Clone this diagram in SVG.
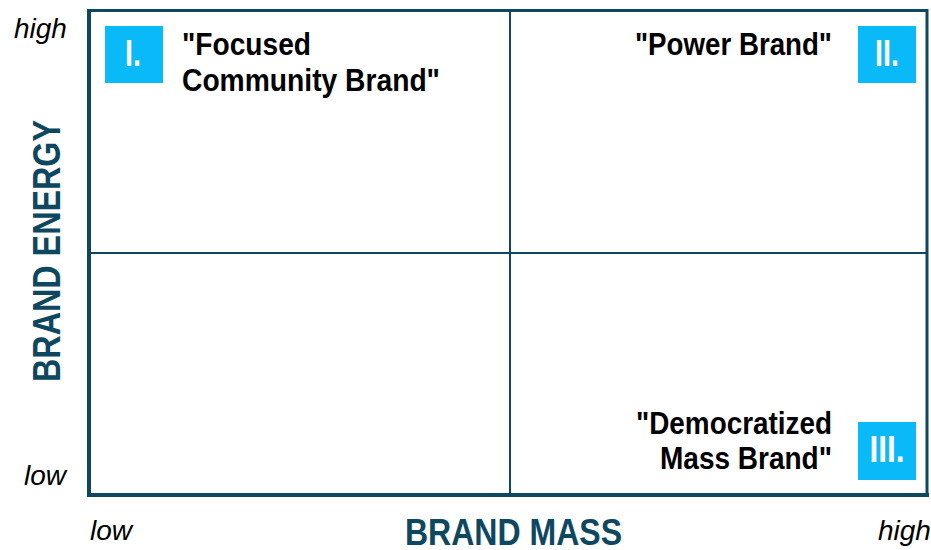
<svg xmlns="http://www.w3.org/2000/svg" width="931" height="550" viewBox="0 0 931 550">
  <style>
    .frame { fill: none; stroke: #0d4760; }
    .axis { stroke: #0d4760; stroke-width: 4; stroke-linecap: square; }
    .grid { stroke: #0d4760; stroke-width: 2; }
    .badge { fill: #0ab9f7; }
    .num { font-family: "Liberation Sans", Arial, sans-serif; font-weight: bold; font-size: 36px; fill: #ffffff; text-anchor: middle; }
    .label { font-family: "Liberation Sans", Arial, sans-serif; font-weight: bold; font-size: 31px; fill: #000000; }
    .title { font-family: "Liberation Sans", Arial, sans-serif; font-weight: bold; fill: #0d4760; }
    .tick { font-family: "Liberation Sans", Arial, sans-serif; font-style: italic; font-size: 28px; fill: #000000; }
  </style>

  <!-- outer frame and quadrant dividers -->
  <g id="matrix">
    <rect class="frame" x="89" y="10.5" width="838" height="484" stroke-width="3"/>
    <line class="grid" x1="510" y1="11" x2="510" y2="494"/>
    <line class="grid" x1="90" y1="253" x2="927" y2="253"/>
    <line class="axis" x1="89" y1="11" x2="89" y2="495"/>
    <line class="axis" x1="89" y1="495" x2="927" y2="495"/>
  </g>

  <!-- quadrant I -->
  <g id="quadrant-1">
    <rect class="badge" x="105" y="26" width="58" height="57"/>
    <text class="num" x="133" y="66" textLength="16" lengthAdjust="spacingAndGlyphs">I.</text>
    <text class="label" x="182" y="55" textLength="129" lengthAdjust="spacingAndGlyphs">"Focused</text>
    <text class="label" x="182" y="91" textLength="258" lengthAdjust="spacingAndGlyphs">Community Brand"</text>
  </g>

  <!-- quadrant II -->
  <g id="quadrant-2">
    <rect class="badge" x="858" y="26" width="58" height="57"/>
    <text class="num" x="887" y="66" textLength="24" lengthAdjust="spacingAndGlyphs">II.</text>
    <text class="label" x="635" y="55" textLength="197" lengthAdjust="spacingAndGlyphs">"Power Brand"</text>
  </g>

  <!-- quadrant III -->
  <g id="quadrant-3">
    <rect class="badge" x="858" y="422" width="58" height="58"/>
    <text class="num" x="887" y="462" textLength="35" lengthAdjust="spacingAndGlyphs">III.</text>
    <text class="label" x="636" y="434" textLength="196" lengthAdjust="spacingAndGlyphs">"Democratized</text>
    <text class="label" x="660" y="469" textLength="172" lengthAdjust="spacingAndGlyphs">Mass Brand"</text>
  </g>

  <!-- axis titles -->
  <g id="axis-y">
    <text class="title" font-size="38" transform="translate(60,382) rotate(-90)" textLength="262" lengthAdjust="spacingAndGlyphs">BRAND ENERGY</text>
    <text class="tick" x="14" y="38">high</text>
    <text class="tick" x="24" y="485">low</text>
  </g>
  <g id="axis-x">
    <text class="title" font-size="37" x="405" y="545" textLength="217" lengthAdjust="spacingAndGlyphs">BRAND MASS</text>
    <text class="tick" x="90" y="540">low</text>
    <text class="tick" x="878" y="540">high</text>
  </g>
</svg>
